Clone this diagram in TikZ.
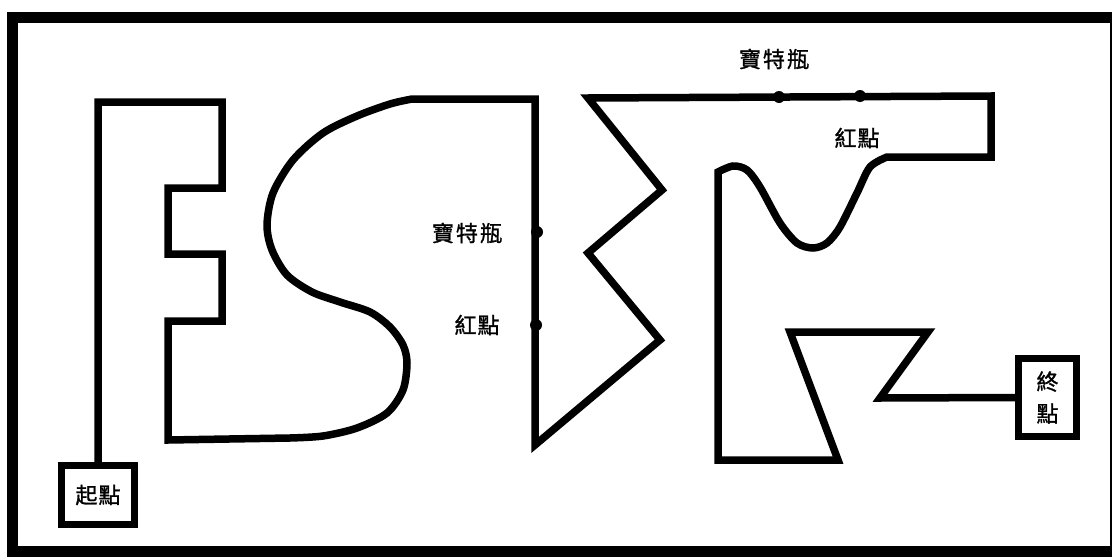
\documentclass[tikz,border=0pt]{standalone}
\usepackage{fontspec}
\newfontfamily\cjk[FakeBold=1.2]{Noto Sans CJK TC}
\begin{document}
\begin{tikzpicture}[x=1pt,y=-1pt,
  maze/.style={line width=7.5pt, line join=miter},
  framebox/.style={line width=11pt},
  endbox/.style={draw, line width=7pt, minimum width=73pt, minimum height=59pt, inner sep=0pt, font=\cjk\fontsize{22}{32}\selectfont},
  bead/.style={circle, fill, inner sep=0pt, minimum size=12pt},
  lbl/.style={font=\cjk\fontsize{22}{25}\selectfont, inner sep=0pt}]
\useasboundingbox (0,0) rectangle (1112,557);
\clip (0,0) rectangle (1112,557);
\draw[framebox] (12,17) rectangle (1115,551);

\node[endbox] (start) at (98,495) {起\hspace{1pt}點};
\node[endbox, minimum width=58pt, minimum height=78pt, align=center] (finish) at (1047.5,397.5) {終\\點};

\draw[maze] (start.north) -- (98,102) -- (222,102) -- (222,188) -- (168,188) -- (168,254) -- (222,254) -- (222,321) -- (168,321) -- (168,440) -- (290,438)
  -- plot[smooth] coordinates {(290,438) (323,436) (357,428) (387,413) (403,390) (407,363) (403,345) (390,327) (370,312) (340,302) (312,292) (287,275) (272,250) (267,225) (273,193) (293,160) (323,133) (357,116) (390,104) (412,99)}
  -- (535,99) -- (535,445) -- (660,340) -- (588,253) -- (662,190) -- (588,98) -- (991,96) -- (991,157) -- (887,157)
  -- plot[smooth] coordinates {(887,157) (870,167) (857,193) (840,227) (827,243) (813,248) (797,243) (780,223) (760,187) (747,170) (733,166) (718,172)}
  -- (718,460) -- (838,460) -- (790,332) -- (928,332) -- (880,398) -- (finish.west);

\node[bead] (b1) at (537,232) {};
\node[bead] (b2) at (536,325) {};
\node[bead] (b3) at (779,97) {};
\node[bead] (b4) at (860,96) {};

\node[lbl] (l1) at (467,233) {寶\hspace{2pt}特\hspace{2pt}瓶};
\node[lbl] (l2) at (477,325) {紅\hspace{1pt}點};
\node[lbl] (l3) at (774,59) {寶\hspace{2pt}特\hspace{2pt}瓶};
\node[lbl] (l4) at (857,138) {紅\hspace{1pt}點};
\end{tikzpicture}
\end{document}
